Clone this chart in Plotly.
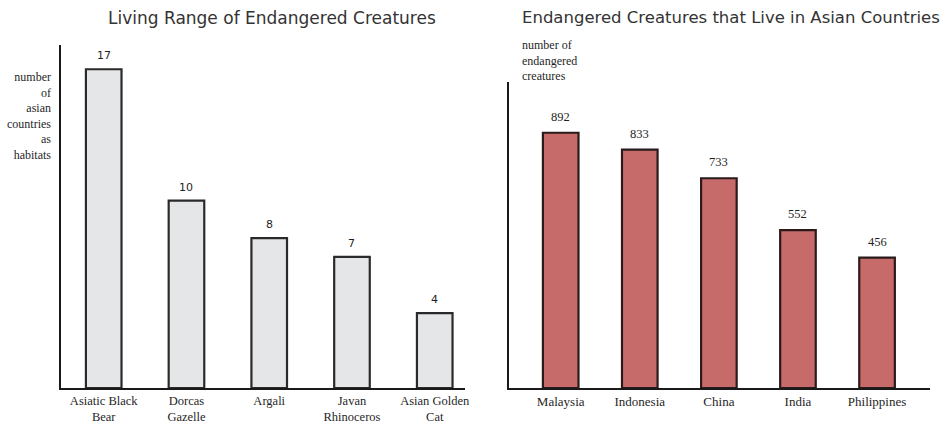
import plotly.graph_objects as go

# Living range: number of Asian countries each creature lives in
creatures = ["Asiatic Black<br>Bear", "Dorcas<br>Gazelle", "Argali", "Javan<br>Rhinoceros", "Asian Golden<br>Cat"]
habitat_counts = [17, 10, 8, 7, 4]

# Number of endangered creatures per Asian country
countries = ["Malaysia", "Indonesia", "China", "India", "Philippines"]
endangered_counts = [892, 833, 733, 552, 456]

W, H = 944, 424
SERIF = "Liberation Serif, Times New Roman, serif"
SANS = "DejaVu Sans, Verdana, sans-serif"
INK = "#1f1f1f"

fig = go.Figure()

fig.add_trace(go.Bar(
    x=creatures, y=habitat_counts, xaxis="x", yaxis="y",
    width=0.43, marker=dict(color="#e4e6e8", line=dict(color="#2a2a2a", width=2.2)),
    hoverinfo="skip", showlegend=False,
))
fig.add_trace(go.Bar(
    x=countries, y=endangered_counts, xaxis="x2", yaxis="y2",
    width=0.45, marker=dict(color="#c76a6a", line=dict(color="#2a1a1a", width=2.2)),
    hoverinfo="skip", showlegend=False,
))

annotations = []
# value labels above each bar
for c, v in zip(creatures, habitat_counts):
    annotations.append(dict(x=c, y=v, xref="x", yref="y", text=str(v), showarrow=False,
                            yanchor="bottom", yshift=5, font=dict(family=SANS, size=11, color=INK)))
for c, v in zip(countries, endangered_counts):
    annotations.append(dict(x=c, y=v, xref="x2", yref="y2", text=str(v), showarrow=False,
                            yanchor="bottom", yshift=7, font=dict(family=SERIF, size=12.5, color=INK)))

# panel titles
annotations.append(dict(x=273 / W, y=1 - 18 / H, xref="paper", yref="paper", text="Living Range of Endangered Creatures",
                        showarrow=False, xanchor="center", yanchor="middle",
                        font=dict(family=SANS, size=17, color="#333")))
annotations.append(dict(x=735 / W, y=1 - 18 / H, xref="paper", yref="paper",
                        text="Endangered Creatures that Live in Asian Countries",
                        showarrow=False, xanchor="center", yanchor="middle",
                        font=dict(family=SANS, size=16.5, color="#333")))

# axis captions
annotations.append(dict(x=53 / W, y=1 - 68 / H, xref="paper", yref="paper",
                        text="number<br>of<br>asian<br>countries<br>as<br>habitats",
                        showarrow=False, xanchor="right", yanchor="top", align="right",
                        font=dict(family=SERIF, size=12, color=INK)))
annotations.append(dict(x=523 / W, y=1 - 36 / H, xref="paper", yref="paper",
                        text="number of<br>endangered<br>creatures",
                        showarrow=False, xanchor="left", yanchor="top", align="left",
                        font=dict(family=SERIF, size=12, color=INK)))

axis_common = dict(showgrid=False, zeroline=False, showline=True, linecolor="#1a1a1a",
                   linewidth=2.2, ticks="", fixedrange=True)

fig.update_layout(
    width=W, height=H,
    margin=dict(l=0, r=0, t=0, b=0),
    paper_bgcolor="white", plot_bgcolor="white",
    annotations=annotations,
    xaxis=dict(domain=[61 / W, 467 / W], range=[-0.52, 4.36], anchor="y",
               tickfont=dict(family=SERIF, size=12.5, color=INK), **axis_common),
    yaxis=dict(domain=[1 - 389 / H, 1 - 45 / H], range=[0, 18.3], anchor="x",
               showticklabels=False, **axis_common),
    xaxis2=dict(domain=[512 / W, 935 / W], range=[-0.65, 4.67], anchor="y2",
                tickfont=dict(family=SERIF, size=13, color=INK), **axis_common),
    yaxis2=dict(domain=[1 - 389 / H, 1 - 82 / H], range=[0, 1070], anchor="x2",
                showticklabels=False, **axis_common),
)

fig.write_html("out.html")
